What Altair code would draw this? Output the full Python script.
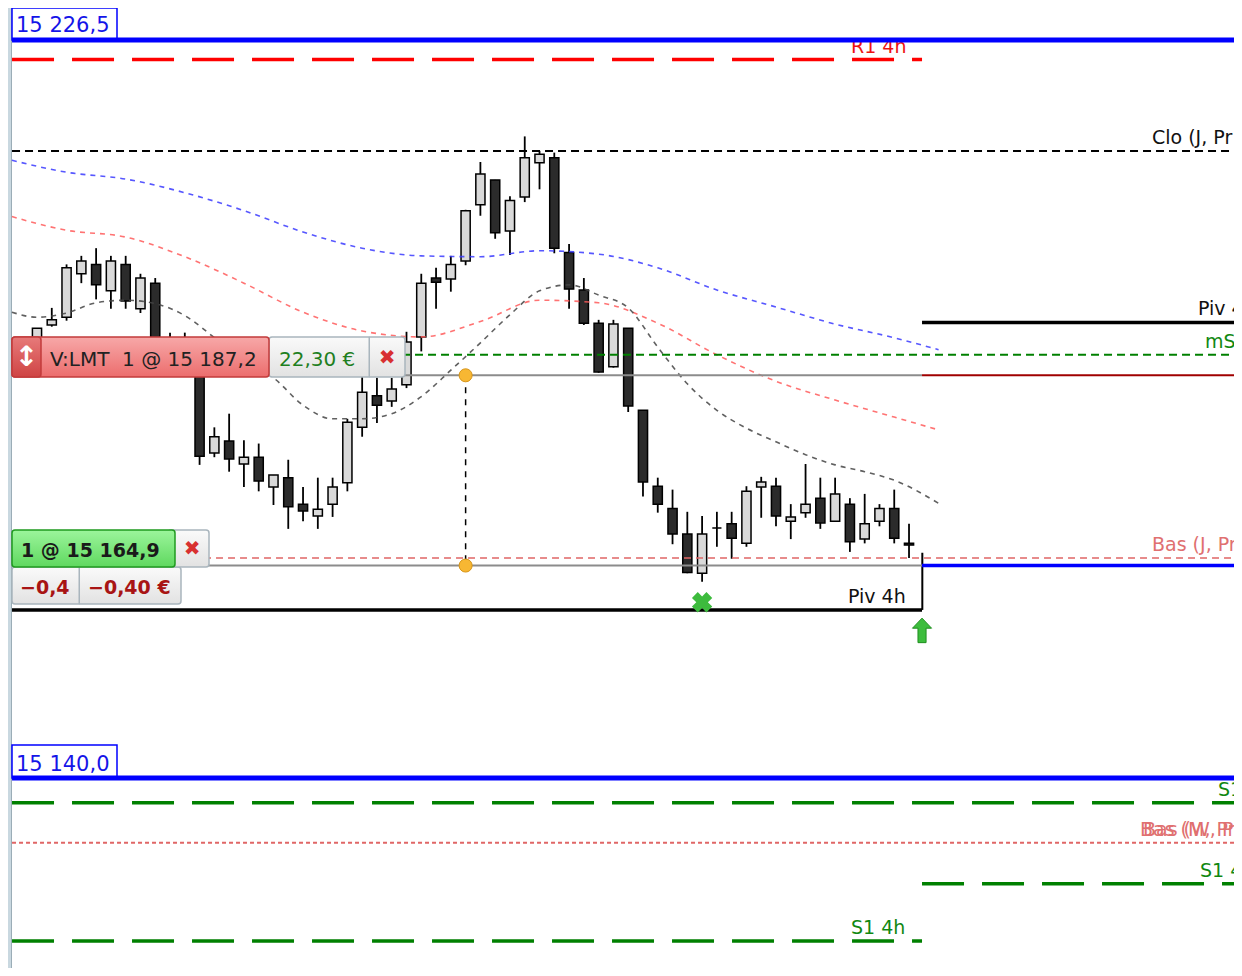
import altair as alt
import pandas as pd

# ---------------- data ----------------
candle_open = [15190.7, 15193.1, 15194.0, 15199.1, 15200.2, 15197.1, 15200.2, 15195.0, 15198.0, 15188.8,
               15191.3, 15187.6, 15178.1, 15179.5, 15176.8, 15177.6, 15174.1, 15175.2, 15172.1, 15170.7,
               15172.1, 15174.6, 15181.1, 15184.8, 15184.2, 15186.1, 15191.7, 15198.6, 15198.5, 15200.6,
               15207.2, 15210.1, 15204.1, 15208.1, 15212.1, 15212.7, 15201.6, 15197.2, 15193.3, 15188.2,
               15192.7, 15183.1, 15174.2, 15171.6, 15168.6, 15164.0, 15169.3, 15169.8, 15167.5, 15174.1,
               15174.2, 15170.1, 15171.1, 15172.8, 15170.1, 15172.1, 15168.0, 15170.1, 15171.6, 15167.5]
candle_high = [15192.7, 15195.1, 15200.2, 15201.2, 15202.1, 15201.2, 15201.2, 15199.1, 15198.6, 15192.2,
               15192.2, 15188.1, 15181.1, 15182.7, 15179.6, 15179.2, 15175.5, 15177.3, 15174.1, 15175.2,
               15175.2, 15182.1, 15187.0, 15186.9, 15186.9, 15192.3, 15199.1, 15199.8, 15201.2, 15206.6,
               15212.2, 15210.1, 15208.2, 15215.2, 15213.5, 15213.3, 15202.6, 15198.6, 15193.7, 15193.7,
               15192.7, 15183.1, 15175.2, 15173.8, 15171.2, 15170.7, 15171.2, 15171.2, 15174.2, 15175.3,
               15175.2, 15172.1, 15176.8, 15175.2, 15175.2, 15172.8, 15173.3, 15172.1, 15173.8, 15169.8]
candle_low = [15190.2, 15192.9, 15193.6, 15198.0, 15196.1, 15195.0, 15195.0, 15194.5, 15188.4, 15187.8,
              15187.1, 15176.7, 15177.6, 15175.9, 15174.1, 15173.6, 15172.0, 15169.2, 15170.1, 15169.2,
              15170.6, 15173.6, 15180.0, 15181.6, 15183.5, 15185.7, 15190.0, 15195.0, 15197.0, 15200.1,
              15205.9, 15203.2, 15201.3, 15207.5, 15209.0, 15201.5, 15195.0, 15193.1, 15187.5, 15188.1,
              15182.9, 15173.0, 15171.1, 15167.4, 15164.0, 15163.0, 15167.1, 15165.7, 15167.1, 15170.5,
              15169.5, 15168.0, 15170.5, 15169.2, 15170.1, 15166.5, 15167.5, 15169.5, 15167.5, 15165.8]
candle_close = [15192.7, 15193.7, 15199.8, 15200.6, 15197.8, 15200.6, 15195.9, 15198.6, 15189.6, 15190.8,
                15187.6, 15177.7, 15180.0, 15177.4, 15177.6, 15174.8, 15175.5, 15171.8, 15171.3, 15171.5,
                15174.1, 15181.7, 15185.2, 15183.7, 15185.6, 15191.1, 15198.0, 15198.1, 15200.2, 15206.5,
                15210.8, 15203.9, 15207.7, 15212.7, 15213.1, 15202.1, 15197.3, 15193.3, 15187.6, 15193.2,
                15183.6, 15174.7, 15172.1, 15168.6, 15164.1, 15168.6, 15169.3, 15168.1, 15173.6, 15174.7,
                15170.7, 15170.6, 15172.1, 15169.9, 15173.3, 15167.7, 15169.8, 15171.6, 15168.1, 15167.3]

last_bar_index = [59.9]
last_bar_high = [15166.4]
last_bar_low = [15159.7]

ma_index = [-1.7, 2, 6, 10, 14, 18, 22, 26, 30, 34, 38, 42, 46, 50, 54, 58, 61]
ma_slow = [15212.4, 15211.0, 15210.2, 15208.6, 15206.5, 15204.0, 15202.1, 15201.2, 15201.1, 15201.8,
           15201.4, 15199.8, 15197.2, 15195.2, 15193.2, 15191.6, 15190.2]
ma_mid = [15205.8, 15204.2, 15203.4, 15201.1, 15198.0, 15194.6, 15192.4, 15191.7, 15193.5, 15196.0,
          15195.7, 15193.3, 15189.6, 15186.5, 15184.3, 15182.3, 15180.8]
ma_fast_index = [-1.7, 0, 2, 4, 6, 8, 10, 12, 14, 16, 18, 20, 22, 24, 26, 28, 30, 32, 34, 36, 38, 40,
                 42, 44, 46, 48, 50, 52, 54, 56, 58, 61]
ma_fast = [15194.6, 15194.0, 15194.5, 15195.7, 15196.0, 15195.6, 15194.2, 15191.6, 15188.8, 15186.9,
           15183.7, 15182.1, 15182.1, 15182.7, 15184.7, 15187.8, 15191.0, 15194.3, 15197.1, 15197.8,
           15196.6, 15195.1, 15190.5, 15186.2, 15183.1, 15181.0, 15179.4, 15177.9, 15176.7, 15175.9,
           15174.9, 15172.2]

level_names = ["alert_top", "R1 4h", "Clo (J, Pr", "Piv 4", "mS1", "order_left", "order_right",
               "Bas (J, Pr", "pos_left", "pos_right", "Piv 4h", "alert_bottom", "S1",
               "Bas (M, Pr", "S1 4", "S1 4h"]
level_prices = [15226.5, 15224.2, 15213.5, 15193.4, 15189.6, 15187.2, 15187.2,
                15165.8, 15164.9, 15164.9, 15159.7, 15140.0, 15137.1,
                15132.4, 15127.6, 15120.9]
level_start = [-1.69, -1.69, -1.69, 59.88, -1.69, -1.69, 59.88,
               -1.69, -1.69, 59.88, -1.69, -1.69, -1.69,
               -1.69, 59.88, -1.69]
level_end = [80.99, 59.88, 80.99, 80.99, 80.99, 59.88, 80.99,
             80.99, 59.88, 80.99, 59.88, 80.99, 80.99,
             80.99, 80.99, 59.88]

label_texts = ["R1 4h", "Clo (J, Pr", "Piv 4", "mS1", "Bas (J, Pr", "Piv 4h", "S1",
               "Bas (M, Pr", "Bas (W, Pr", "S1 4", "S1 4h"]
label_prices = [15224.2, 15213.5, 15193.4, 15189.6, 15165.8, 15159.7, 15137.1,
                15132.4, 15132.4, 15127.6, 15120.9]

alert_top_text = "15 226,5"
alert_bottom_text = "15 140,0"
order_text = "V:LMT\u00a0 1 @ 15 187,2"
order_pnl_text = "22,30 €"
position_text = "1 @ 15 164,9"
position_pts_text = "−0,4"
position_pnl_text = "−0,40 €"
entry_index = [29]
order_price = [15187.2]
position_price = [15164.9]
signal_index = [45]
signal_price = [15160.6]
arrow_index = [59.88]
arrow_price = [15157.3]

# ---------------- scales ----------------
FONT = "DejaVu Sans"
XS = alt.Scale(domain=[-1.962, 80.988], nice=False, zero=False)
YS = alt.Scale(domain=[15117.73, 15230.25], nice=False, zero=False)
ONE = pd.DataFrame({"k": [0]})


def X(f):
    return alt.X(f, type="quantitative", scale=XS, axis=None)


def Y(f):
    return alt.Y(f, type="quantitative", scale=YS, axis=None)


layers = []

# left panel strip
layers.append(alt.Chart(ONE).mark_rect(fill="#c9d8e0").encode(
    x=alt.value(0), x2=alt.value(3.5), y=alt.value(0), y2=alt.value(960)))
layers.append(alt.Chart(ONE).mark_rule(color="#9badb7", strokeWidth=1).encode(
    x=alt.value(3.5), y=alt.value(0), y2=alt.value(960)))

# candles
cdf = pd.DataFrame({"i": list(range(len(candle_open))), "open": candle_open, "high": candle_high,
                    "low": candle_low, "close": candle_close})
cbase = alt.Chart(cdf)
layers.append(cbase.mark_rule(color="#000000", strokeWidth=1.8).encode(
    x=X("i"), y=Y("low"), y2="high"))
layers.append(cbase.transform_calculate(left="datum.i - 0.31", right="datum.i + 0.31").mark_rect(
    stroke="#000000", strokeWidth=1.5).encode(
    x=X("left"), x2="right", y=Y("open"), y2="close",
    fill=alt.when(alt.datum.close > alt.datum.open).then(alt.value("#d9d9d9")).otherwise(alt.value("#2b2b2b"))))

lb = pd.DataFrame({"i": last_bar_index, "h": last_bar_high, "l": last_bar_low})
layers.append(alt.Chart(lb).mark_rule(color="#000000", strokeWidth=2).encode(x=X("i"), y=Y("l"), y2="h"))

# moving averages
ma_df = pd.DataFrame({"i": ma_index, "slow": ma_slow, "mid": ma_mid})
layers.append(alt.Chart(ma_df).mark_line(color="#3a3aff", strokeWidth=1.6, strokeDash=[5, 5],
                                         opacity=0.85, interpolate="monotone").encode(x=X("i"), y=Y("slow")))
layers.append(alt.Chart(ma_df).mark_line(color="#ff5a5a", strokeWidth=1.6, strokeDash=[5, 5],
                                         opacity=0.85, interpolate="monotone").encode(x=X("i"), y=Y("mid")))
fdf = pd.DataFrame({"i": ma_fast_index, "v": ma_fast})
layers.append(alt.Chart(fdf).mark_line(color="#444444", strokeWidth=1.6, strokeDash=[5, 5],
                                       opacity=0.85, interpolate="monotone").encode(x=X("i"), y=Y("v")))

# level texts (drawn before lines so that lines overlap them)
label_px = {"R1 4h": 843, "Clo (J, Pr": 1144, "Piv 4": 1190, "mS1": 1197, "Bas (J, Pr": 1144,
            "Piv 4h": 840, "S1": 1210, "Bas (M, Pr": 1132, "Bas (W, Pr": 1135, "S1 4": 1192, "S1 4h": 843}
label_col = {"R1 4h": "#ee1111", "Clo (J, Pr": "#111111", "Piv 4": "#111111", "mS1": "#118811",
             "Bas (J, Pr": "#e07070", "Piv 4h": "#111111", "S1": "#118811", "Bas (M, Pr": "#e07070",
             "Bas (W, Pr": "#e07070", "S1 4": "#118811", "S1 4h": "#118811"}
tdf = pd.DataFrame({"t": label_texts, "p": label_prices})
tdf["px"] = tdf["t"].map(label_px)
tdf["col"] = tdf["t"].map(label_col)
layers.append(alt.Chart(tdf).mark_text(font=FONT, fontSize=19, align="left", baseline="alphabetic",
                                        dy=-7).encode(
    x=alt.X("px:Q", scale=None), y=Y("p"), text="t:N", color=alt.Color("col:N", scale=None)))

# alert boxes
def px_box(x1, x2, y1, y2, fill, stroke, sw=1.5, r=0):
    return alt.Chart(ONE).mark_rect(fill=fill, stroke=stroke, strokeWidth=sw, cornerRadius=r).encode(
        x=alt.value(x1), x2=alt.value(x2), y=alt.value(y1), y2=alt.value(y2))


def px_text(s, x, y, color, size=20, weight="normal", align="left", baseline="alphabetic"):
    return alt.Chart(ONE).mark_text(text=s, font=FONT, fontSize=size, fontWeight=weight, color=color,
                                    align=align, baseline=baseline).encode(x=alt.value(x), y=alt.value(y))


layers.append(px_box(4, 109, 0, 32, "#ffffff", "#0000ff"))
layers.append(px_text(alert_top_text, 8, 24, "#1515e8", size=21))
layers.append(px_box(4, 109, 737, 770, "#ffffff", "#0000ff"))
layers.append(px_text(alert_bottom_text, 8, 763, "#1515e8", size=21))

# horizontal levels
styles = {
    "alert_top": dict(color="#0000ff", strokeWidth=5),
    "R1 4h": dict(color="#ff0000", strokeWidth=3.5, strokeDash=[42, 18]),
    "Clo (J, Pr": dict(color="#000000", strokeWidth=2, strokeDash=[8, 5]),
    "Piv 4": dict(color="#000000", strokeWidth=3.5),
    "mS1": dict(color="#008000", strokeWidth=2, strokeDash=[8, 5]),
    "order_left": dict(color="#8c8c8c", strokeWidth=2),
    "order_right": dict(color="#a00000", strokeWidth=2),
    "Bas (J, Pr": dict(color="#e06666", strokeWidth=1.5, strokeDash=[7, 5]),
    "pos_left": dict(color="#8c8c8c", strokeWidth=2),
    "pos_right": dict(color="#0000ff", strokeWidth=3.5),
    "Piv 4h": dict(color="#000000", strokeWidth=3.5),
    "alert_bottom": dict(color="#0000ff", strokeWidth=5),
    "S1": dict(color="#008000", strokeWidth=3.5, strokeDash=[42, 18]),
    "Bas (M, Pr": dict(color="#e06666", strokeWidth=2, strokeDash=[4, 3]),
    "S1 4": dict(color="#008000", strokeWidth=3.5, strokeDash=[42, 18]),
    "S1 4h": dict(color="#008000", strokeWidth=3.5, strokeDash=[42, 18]),
}
ldf = pd.DataFrame({"name": level_names, "p": level_prices, "a": level_start, "b": level_end})
for n in level_names:
    layers.append(alt.Chart(ldf).transform_filter(alt.datum.name == n).mark_rule(**styles[n]).encode(
        x=X("a"), x2="b", y=Y("p")))

# entry link
edf = pd.DataFrame({"i": entry_index, "p1": order_price, "p2": position_price})
layers.append(alt.Chart(edf).mark_rule(color="#000000", strokeWidth=1.5, strokeDash=[6, 6]).encode(
    x=X("i"), y=Y("p1"), y2="p2"))
cdots = pd.DataFrame({"i": entry_index * 2, "p": order_price + position_price})
layers.append(alt.Chart(cdots).mark_circle(size=170, color="#f7b733", stroke="#d8961a", strokeWidth=1,
                                           opacity=1).encode(x=X("i"), y=Y("p")))

# signal markers
sdf = pd.DataFrame({"i": signal_index, "p": signal_price})
layers.append(alt.Chart(sdf).mark_point(shape="cross", angle=45, filled=True, size=420, color="#3dbb3d",
                                        opacity=1).encode(x=X("i"), y=Y("p")))
adf = pd.DataFrame({"i": arrow_index, "p": arrow_price})
arrow_path = "M0,-1L0.78,-0.18L0.33,-0.18L0.33,1L-0.33,1L-0.33,-0.18L-0.78,-0.18Z"
layers.append(alt.Chart(adf).mark_point(shape=arrow_path, filled=True, size=600, color="#3dbd3d",
                                        stroke="#1f8f1f", strokeWidth=1, opacity=1).encode(x=X("i"), y=Y("p")))

# order label (red)
red_grad = {"gradient": "linear", "x1": 0, "y1": 0, "x2": 0, "y2": 1,
            "stops": [{"offset": 0, "color": "#f7a8a8"}, {"offset": 1, "color": "#ec6d6d"}]}
red_dark = {"gradient": "linear", "x1": 0, "y1": 0, "x2": 0, "y2": 1,
            "stops": [{"offset": 0, "color": "#e77a7a"}, {"offset": 1, "color": "#cf4444"}]}
gray_grad = {"gradient": "linear", "x1": 0, "y1": 0, "x2": 0, "y2": 1,
             "stops": [{"offset": 0, "color": "#fafafa"}, {"offset": 1, "color": "#e2e2e2"}]}
green_grad = {"gradient": "linear", "x1": 0, "y1": 0, "x2": 0, "y2": 1,
              "stops": [{"offset": 0, "color": "#9cf59c"}, {"offset": 1, "color": "#5fd85f"}]}

layers.append(px_box(261, 397, 329, 369, gray_grad, "#a9b5bd", r=3))
layers.append(px_box(361, 361.5, 329, 369, "#a9b5bd", "#a9b5bd", sw=1))
layers.append(px_box(4, 261, 329, 369, red_grad, "#c23b3b", r=3))
layers.append(px_box(4, 33, 329, 369, red_dark, "#c23b3b", r=3))
layers.append(px_text("↕", 18.5, 350, "#ffffff", size=28, weight="bold", align="center", baseline="middle"))
layers.append(px_text(order_text, 42, 358, "#222222", size=20))
layers.append(px_text(order_pnl_text, 271, 358, "#1f7f1f", size=20))
layers.append(px_text("✖", 379, 350, "#d83030", size=20, align="center", baseline="middle"))

# position label (green)
layers.append(px_box(4, 173, 559, 596, gray_grad, "#a9b5bd", r=3))
layers.append(px_box(71, 71.5, 559, 596, "#a9b5bd", "#a9b5bd", sw=1))
layers.append(px_box(160, 201, 522, 559, gray_grad, "#a9b5bd", r=3))
layers.append(px_box(4, 167, 522, 559, green_grad, "#1f9a1f", r=3))
layers.append(px_text(position_text, 13, 549, "#1a1a1a", size=19, weight="bold"))
layers.append(px_text("✖", 184, 541, "#d83030", size=20, align="center", baseline="middle"))
layers.append(px_text(position_pts_text, 12, 586, "#a81414", size=19, weight="bold"))
layers.append(px_text(position_pnl_text, 80, 586, "#a81414", size=19, weight="bold"))

chart = alt.layer(*layers).properties(
    width=1226, height=960, autosize=alt.AutoSizeParams(type="none"), padding=0
).configure_view(stroke=None)

chart.save("out.html", embed_options={"renderer": "svg", "actions": False})
